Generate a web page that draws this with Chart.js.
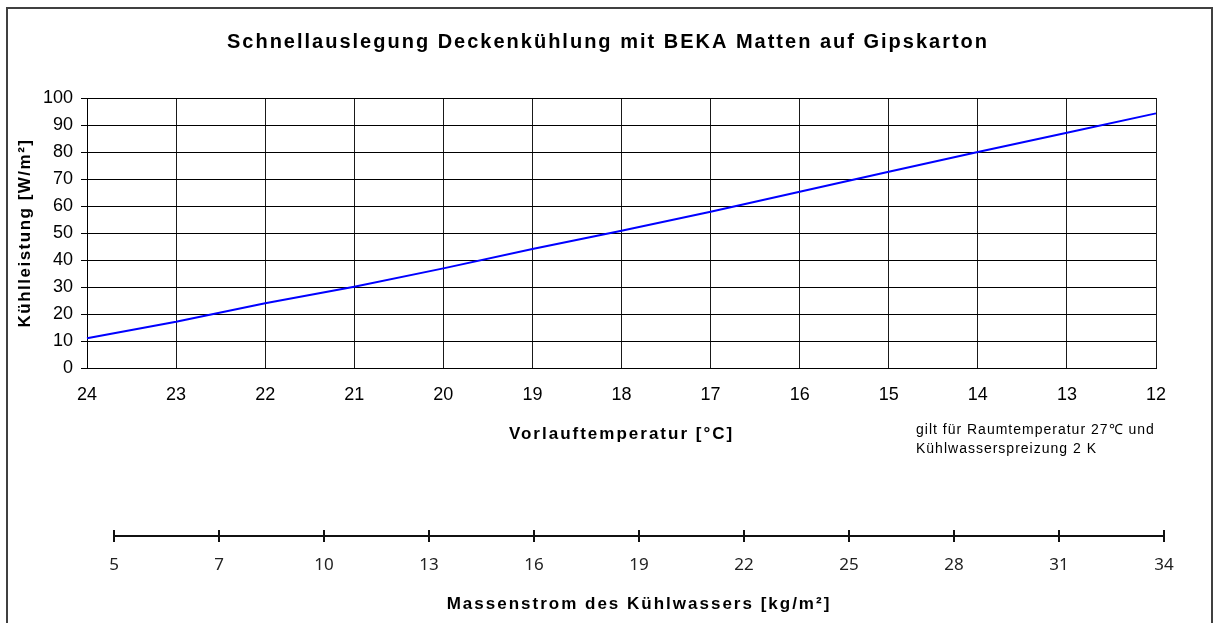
<!DOCTYPE html>
<html>
<head>
<meta charset="utf-8">
<script src="https://cdn.jsdelivr.net/npm/chart.js@4/dist/chart.umd.min.js"></script>
<style>
    body { margin: 0; background: #fff; width: 1216px; height: 623px; overflow: hidden; position: relative;
           font-family: "Liberation Sans", Arial, sans-serif; }
    #frame { position: absolute; left: 6px; top: 7px; width: 1203px; height: 640px; border: 2px solid #404040; }
    canvas { position: absolute; left: 0; }
    #main { top: 0; }
    #flow { top: 460px; }
    #note { position: absolute; left: 916px; top: 420px; font-size: 14px; line-height: 19px;
            letter-spacing: 1px; color: #000; }
</style>
</head>
<body>
<div id="frame"></div>
<canvas id="main" width="1216" height="460"></canvas>
<canvas id="flow" width="1216" height="163"></canvas>
<div id="note">gilt für Raumtemperatur 27℃ und<br>Kühlwasserspreizung 2 K</div>
<script>
// Schnellauslegung Deckenkühlung : Kühlleistung über Vorlauftemperatur + Massenstrom-Skala.

const FONT = '"Liberation Sans", Arial, sans-serif';

const vorlaufTemp = [24, 23, 22, 21, 20, 19, 18, 17, 16, 15, 14, 13, 12];
const kuehlleistung = [11, 17.1, 24, 30.1, 36.9, 44.1, 50.8, 57.9, 65.3, 72.7, 80, 87.1, 94.3];
const leistungTicks = { min: 0, max: 100, step: 10 };
const massenstrom = [5, 7, 10, 13, 16, 19, 22, 25, 28, 31, 34];

// Titel im Original leicht gesperrt -> letterSpacing nur für Titel-Texte setzen
function spacing(obj, fn, ctx, px) {
    if (!obj || obj['_ls_' + fn]) return;
    const orig = obj[fn];
    obj[fn] = function (...args) {
        const prev = ctx.letterSpacing;
        ctx.letterSpacing = px;
        orig.apply(this, args);
        ctx.letterSpacing = prev;
    };
    obj['_ls_' + fn] = true;
}

const sperrsatz = {
    id: 'sperrsatz',
    beforeDraw(chart, args, opts) {
        spacing(chart.titleBlock, 'draw', chart.ctx, '2px');
        Object.values(chart.scales).forEach(s => spacing(s, 'drawTitle', chart.ctx, (opts.axis || {})[s.id] || '2px'));
    }
};

new Chart(document.getElementById('main'), {
    type: 'line',
    plugins: [sperrsatz],
    data: {
        labels: vorlaufTemp,
        datasets: [{ data: kuehlleistung, borderColor: '#0000ff', borderWidth: 2,
                     pointRadius: 0, tension: 0, fill: false }]
    },
    options: {
        responsive: false, animation: false,
        layout: { padding: { left: 7, right: 7, top: 0, bottom: 12 } },
        plugins: {
            legend: { display: false },
            tooltip: { enabled: false },
            sperrsatz: { axis: { y: '1.5px' } },
            title: {
                display: true, color: '#000',
                text: 'Schnellauslegung Deckenkühlung mit BEKA Matten auf Gipskarton',
                font: { family: FONT, size: 20, weight: 'bold' },
                padding: { top: 30, bottom: 44 }
            }
        },
        scales: {
            x: {
                grid: { color: '#1a1a1a', drawTicks: false },
                border: { color: '#000' },
                ticks: { color: '#000', font: { family: FONT, size: 18 }, padding: 16,
                         autoSkip: false, maxRotation: 0 },
                title: { display: true, text: 'Vorlauftemperatur [°C]', color: '#000',
                         font: { family: FONT, size: 17, weight: 'bold' }, padding: { top: 0, bottom: 3 } },
                afterFit: s => { s.height = 80; }
            },
            y: {
                min: leistungTicks.min, max: leistungTicks.max,
                grid: { color: '#000', tickLength: 6 },
                border: { color: '#000' },
                ticks: { stepSize: leistungTicks.step, color: '#000', font: { family: FONT, size: 18 }, padding: 8 },
                title: { display: true, text: 'Kühlleistung [W/m²]', color: '#000',
                         font: { family: FONT, size: 17, weight: 'bold' }, padding: { top: 8, bottom: 0 } },
                afterFit: s => { s.width = 80; }
            },
            // leere Achse rechts, nur damit der Titel über dem ganzen Rahmen zentriert ist
            rechts: {
                position: 'right', display: true,
                grid: { display: false, drawTicks: false },
                border: { display: false },
                ticks: { display: false },
                afterFit: s => { s.width = 53; }
            }
        }
    }
});

new Chart(document.getElementById('flow'), {
    type: 'line',
    plugins: [sperrsatz],
    data: { labels: massenstrom, datasets: [] },
    options: {
        responsive: false, animation: false,
        layout: { padding: { left: 114, right: 52, top: 70, bottom: 5 } },
        plugins: { legend: { display: false }, tooltip: { enabled: false } },
        scales: {
            x: {
                grid: { color: '#111', lineWidth: 2, tickLength: 6 },
                border: { color: '#111', width: 2 },
                ticks: { color: '#222', font: { family: '"Noto Sans", sans-serif', size: 17 }, padding: 13,
                         autoSkip: false, maxRotation: 0 },
                title: { display: true, text: 'Massenstrom des Kühlwassers [kg/m²]', color: '#000',
                         font: { family: FONT, size: 17, weight: 'bold' }, padding: { top: 0, bottom: 3 } },
                afterFit: s => { s.height = 82; }
            },
            y: { display: false }
        }
    }
});
</script>
</body>
</html>
